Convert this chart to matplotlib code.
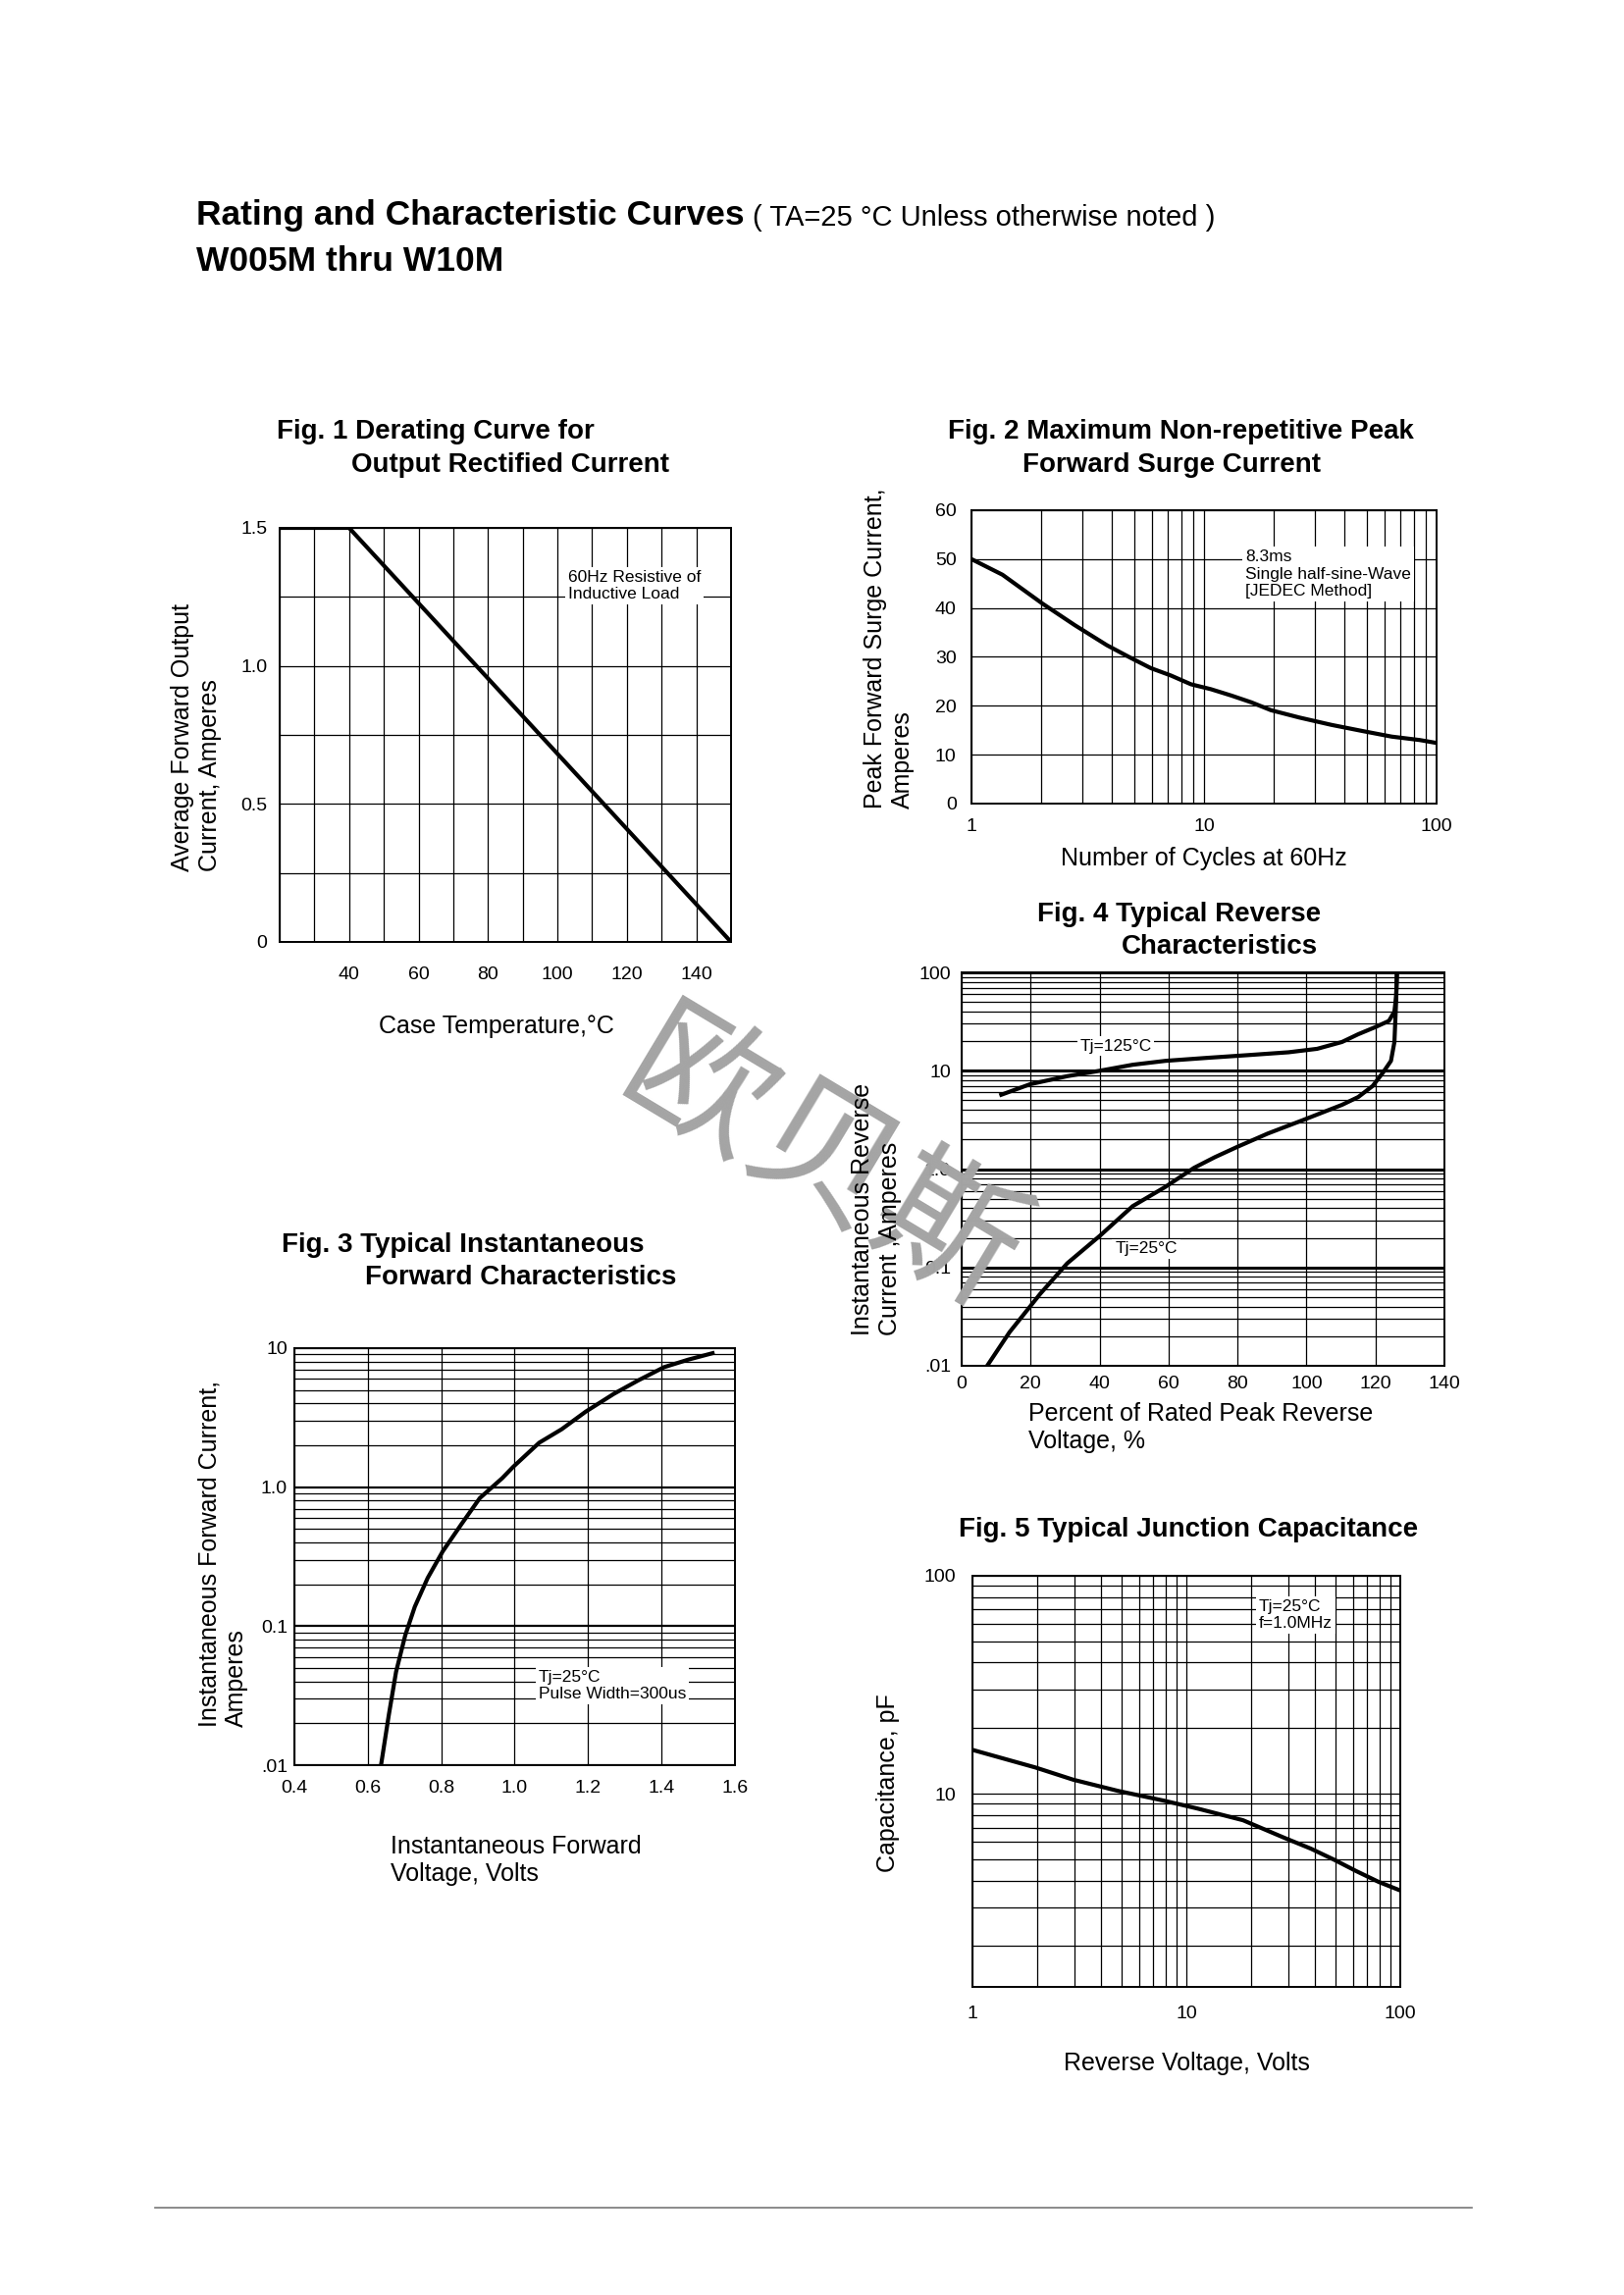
import matplotlib
matplotlib.use('Agg')
import matplotlib.pyplot as plt
from matplotlib.ticker import FixedLocator, NullFormatter

plt.rcParams['font.family'] = ['Liberation Sans', 'DejaVu Sans']

# --- data ---
# Fig. 1 derating
fig1_temp = [20, 40, 150]
fig1_current = [1.5, 1.5, 0.0]

# Fig. 2 surge current vs cycles
fig2_cycles = [1, 1.36, 2.02, 2.78, 3.82, 4.84, 5.91, 7.2, 8.79, 10.7, 13.1, 16.0,
               19.4, 25.7, 35.3, 48.5, 64.1, 84.6, 100]
fig2_surge = [50, 46.8, 40.9, 36.5, 32.4, 29.8, 27.7, 26.2, 24.4, 23.4, 22.1, 20.7,
              19.1, 17.6, 16.1, 14.8, 13.7, 13.0, 12.4]

# Fig. 3 forward characteristics
fig3_vf = [0.636, 0.657, 0.677, 0.702, 0.728, 0.763, 0.804, 0.854, 0.905, 0.966, 0.996,
           1.067, 1.128, 1.194, 1.270, 1.336, 1.407, 1.473, 1.539]
fig3_if = [0.01, 0.0228, 0.047, 0.086, 0.138, 0.222, 0.345, 0.537, 0.834, 1.16, 1.40,
           2.09, 2.61, 3.50, 4.69, 5.85, 7.3, 8.27, 9.2]

# Fig. 4 reverse characteristics
fig4_v125 = [11.5, 19.9, 30.6, 40.1, 49.6, 59.1, 71.0, 82.9, 94.8, 103.1, 110.3, 115.0,
             119.8, 123.9, 125.5, 126.0, 126.2]
fig4_i125 = [5.7, 7.3, 8.8, 10.0, 11.5, 12.6, 13.5, 14.4, 15.4, 16.7, 19.6, 23.5,
             27.6, 32.1, 40, 57, 94]
fig4_v25 = [7.4, 13.9, 22.8, 30.6, 40.1, 49.6, 59.1, 67.4, 73.4, 79.9, 88.8, 99.5,
            110.3, 115.0, 119.2, 122.2, 124.5, 125.5, 126.0, 126.2]
fig4_i25 = [0.01, 0.022, 0.054, 0.11, 0.21, 0.42, 0.66, 1.03, 1.32, 1.68, 2.3, 3.2,
            4.5, 5.4, 7.0, 9.6, 12.6, 19.6, 52, 94]

# Fig. 5 junction capacitance
fig5_vr = [1.0, 1.97, 2.96, 4.81, 7.84, 11.3, 18.4, 28.7, 38.2, 48.7, 62.2, 79.3, 100]
fig5_cap = [15.9, 13.2, 11.6, 10.3, 9.3, 8.55, 7.56, 6.28, 5.6, 5.0, 4.42, 3.94, 3.6]

# tick labels
fig1_xticks = [40, 60, 80, 100, 120, 140]
fig1_yticks = [0, 0.5, 1.0, 1.5]
fig1_ylabels = ['0', '0.5', '1.0', '1.5']
fig2_yticks = [0, 10, 20, 30, 40, 50, 60]
fig2_xticks = [1, 10, 100]
fig3_xticks = [0.4, 0.6, 0.8, 1.0, 1.2, 1.4, 1.6]
fig3_yticks = [0.01, 0.1, 1, 10]
fig3_ylabels = ['.01', '0.1', '1.0', '10']
fig4_xticks = [0, 20, 40, 60, 80, 100, 120, 140]
fig4_yticks = [0.01, 0.1, 1, 10, 100]
fig4_ylabels = ['.01', '0.1', '1.0', '10', '100']
fig5_xticks = [1, 10, 100]
fig5_yticks = [10, 100]

W, H = 1656, 2339
fig = plt.figure(figsize=(W / 100, H / 100), dpi=100)


def box(x0, y0, x1, y1):
    return [x0 / W, 1 - y1 / H, (x1 - x0) / W, (y1 - y0) / H]


def ftext(x, y, s, **kw):
    return fig.text(x / W, 1 - y / H, s, **kw)


def style(ax, xpad, ypad):
    ax.tick_params(which='both', length=0, labelsize=14, colors='black')
    ax.tick_params(axis='x', pad=xpad)
    ax.tick_params(axis='y', pad=ypad)
    for s in ax.spines.values():
        s.set_linewidth(1.4)
        s.set_color('black')
    ax.set_axisbelow(True)


LW = 3.0
GRID = 0.9
ANNOT = dict(fontsize=12.5, bbox=dict(facecolor='white', edgecolor='none', pad=2))

# ---------- page titles ----------
t = ftext(200, 220, 'Rating and Characteristic Curves', fontsize=25.5,
          fontweight='bold', va='center')
fig.canvas.draw()
bb = t.get_window_extent(fig.canvas.get_renderer())
fig.text(bb.x1 / W + 0.005, 1 - 222 / H, '( TA=25 °C Unless otherwise noted )',
         fontsize=21, va='center')
ftext(200, 266, 'W005M thru W10M', fontsize=25.5, fontweight='bold', va='center')

# ---------- Fig. 1 ----------
ax1 = fig.add_axes(box(285, 538, 745, 960))
ax1.plot(fig1_temp, fig1_current, color='black', lw=LW, solid_capstyle='butt', zorder=3)
ax1.set_xlim(20, 150)
ax1.set_ylim(0, 1.5)
ax1.set_xticks(range(20, 151, 10))
ax1.set_xticklabels([str(v) if v in fig1_xticks else '' for v in range(20, 151, 10)])
ax1.set_yticks([0, 0.25, 0.5, 0.75, 1.0, 1.25, 1.5])
ax1.set_yticklabels(['0', '', '0.5', '', '1.0', '', '1.5'])
ax1.grid(True, color='black', lw=GRID)
style(ax1, 18, 9)
ftext(579, 597, '60Hz Resistive of\nInductive Load', va='center', ha='left', **ANNOT)
ftext(282, 440, 'Fig. 1 Derating Curve for', fontsize=20, fontweight='bold', va='center')
ftext(358, 474, 'Output Rectified Current', fontsize=20, fontweight='bold', va='center')
ftext(200, 888, 'Average Forward Output\nCurrent, Amperes', fontsize=18, rotation=90,
      ha='center', va='bottom', multialignment='left')
ftext(506, 1046, 'Case Temperature,°C', fontsize=18, ha='center', va='center')

# ---------- Fig. 2 ----------
ax2 = fig.add_axes(box(990, 520, 1464, 819))
ax2.plot(fig2_cycles, fig2_surge, color='black', lw=LW, zorder=3)
ax2.set_xscale('log')
ax2.set_xlim(1, 100)
ax2.set_ylim(0, 60)
ax2.xaxis.set_major_locator(FixedLocator(fig2_xticks))
ax2.set_xticklabels([str(v) for v in fig2_xticks])
ax2.xaxis.set_minor_formatter(NullFormatter())
ax2.set_yticks(fig2_yticks)
ax2.set_yticklabels([str(v) for v in fig2_yticks])
ax2.grid(True, which='both', color='black', lw=GRID)
style(ax2, 11, 11)
ftext(1269, 585, '8.3ms\nSingle half-sine-Wave\n[JEDEC Method]', va='center', ha='left',
      **ANNOT)
ftext(966, 440, 'Fig. 2 Maximum Non-repetitive Peak', fontsize=20, fontweight='bold',
      va='center')
ftext(1042, 474, 'Forward Surge Current', fontsize=20, fontweight='bold', va='center')
ftext(906, 824, 'Peak Forward Surge Current,\nAmperes', fontsize=18, rotation=90,
      ha='center', va='bottom', multialignment='left')
ftext(1227, 875, 'Number of Cycles at 60Hz', fontsize=18, ha='center', va='center')

# ---------- Fig. 4 ----------
ax4 = fig.add_axes(box(980, 991, 1472, 1392))
ax4.plot(fig4_v125, fig4_i125, color='black', lw=LW, zorder=3)
ax4.plot(fig4_v25, fig4_i25, color='black', lw=LW, zorder=3)
ax4.set_yscale('log')
ax4.set_xlim(0, 140)
ax4.set_ylim(0.01, 100)
ax4.set_xticks(fig4_xticks)
ax4.set_xticklabels([str(v) for v in fig4_xticks])
ax4.yaxis.set_major_locator(FixedLocator(fig4_yticks))
ax4.set_yticklabels(fig4_ylabels)
ax4.yaxis.set_minor_formatter(NullFormatter())
ax4.grid(True, which='major', axis='y', color='black', lw=2.2)
ax4.grid(True, which='minor', axis='y', color='black', lw=GRID)
ax4.grid(True, which='major', axis='x', color='black', lw=GRID)
style(ax4, 7, 8)
ftext(1137, 1066, 'Tj=125°C', ha='center', va='center', **ANNOT)
ftext(1168, 1273, 'Tj=25°C', ha='center', va='center', **ANNOT)
ftext(1057, 932, 'Fig. 4 Typical Reverse', fontsize=20, fontweight='bold', va='center')
ftext(1143, 965, 'Characteristics', fontsize=20, fontweight='bold', va='center')
ftext(893, 1361, 'Instantaneous Reverse\nCurrent ,Amperes', fontsize=18, rotation=90,
      ha='center', va='bottom', multialignment='left')
ftext(1048, 1429, 'Percent of Rated Peak Reverse\nVoltage, %', fontsize=18,
      ha='left', va='top', multialignment='left')

# ---------- Fig. 3 ----------
ax3 = fig.add_axes(box(300, 1374, 749, 1799))
ax3.plot(fig3_vf, fig3_if, color='black', lw=LW, zorder=3)
ax3.set_yscale('log')
ax3.set_xlim(0.4, 1.6)
ax3.set_ylim(0.01, 10)
ax3.set_xticks(fig3_xticks)
ax3.set_xticklabels(['%.1f' % v for v in fig3_xticks])
ax3.yaxis.set_major_locator(FixedLocator(fig3_yticks))
ax3.set_yticklabels(fig3_ylabels)
ax3.yaxis.set_minor_formatter(NullFormatter())
ax3.grid(True, which='major', axis='y', color='black', lw=1.6)
ax3.grid(True, which='minor', axis='y', color='black', lw=GRID)
ax3.grid(True, which='major', axis='x', color='black', lw=GRID)
style(ax3, 11, 5)
ftext(549, 1718, 'Tj=25°C\nPulse Width=300us', ha='left', va='center', **ANNOT)
ftext(287, 1269, 'Fig. 3 Typical Instantaneous', fontsize=20, fontweight='bold',
      va='center')
ftext(372, 1302, 'Forward Characteristics', fontsize=20, fontweight='bold', va='center')
ftext(227, 1760, 'Instantaneous Forward Current,\nAmperes', fontsize=18, rotation=90,
      ha='center', va='bottom', multialignment='left')
ftext(398, 1870, 'Instantaneous Forward\nVoltage, Volts', fontsize=18,
      ha='left', va='top', multialignment='left')

# ---------- Fig. 5 ----------
ax5 = fig.add_axes(box(991, 1606, 1427, 2025))
ax5.plot(fig5_vr, fig5_cap, color='black', lw=LW, zorder=3)
ax5.set_xscale('log')
ax5.set_yscale('log')
ax5.set_xlim(1, 100)
ax5.set_ylim(1.3, 100)
ax5.xaxis.set_major_locator(FixedLocator(fig5_xticks))
ax5.set_xticklabels([str(v) for v in fig5_xticks])
ax5.yaxis.set_major_locator(FixedLocator(fig5_yticks))
ax5.set_yticklabels([str(v) for v in fig5_yticks])
ax5.xaxis.set_minor_formatter(NullFormatter())
ax5.yaxis.set_minor_formatter(NullFormatter())
ax5.grid(True, which='both', color='black', lw=GRID)
style(ax5, 14, 12)
ftext(1283, 1646, 'Tj=25°C\nf=1.0MHz', ha='left', va='center', **ANNOT)
ftext(977, 1559, 'Fig. 5 Typical Junction Capacitance', fontsize=20, fontweight='bold',
      va='center')
ftext(905, 1817, 'Capacitance, pF', fontsize=18, rotation=90, ha='center', va='center')
ftext(1209, 2103, 'Reverse Voltage, Volts', fontsize=18, ha='center', va='center')

# watermark and footer rule
ftext(836, 1188, '欧贝斯', fontsize=106, rotation=-31, color='#a4a4a4', ha='center',
      va='center', family=['Noto Sans CJK SC', 'DejaVu Sans'], zorder=0.5)
fig.add_artist(plt.Line2D([158 / W, 1500 / W], [1 - 2250 / H, 1 - 2250 / H],
                          color='#777777', lw=1.2))

fig.savefig('out.png', dpi=100, facecolor='white')
